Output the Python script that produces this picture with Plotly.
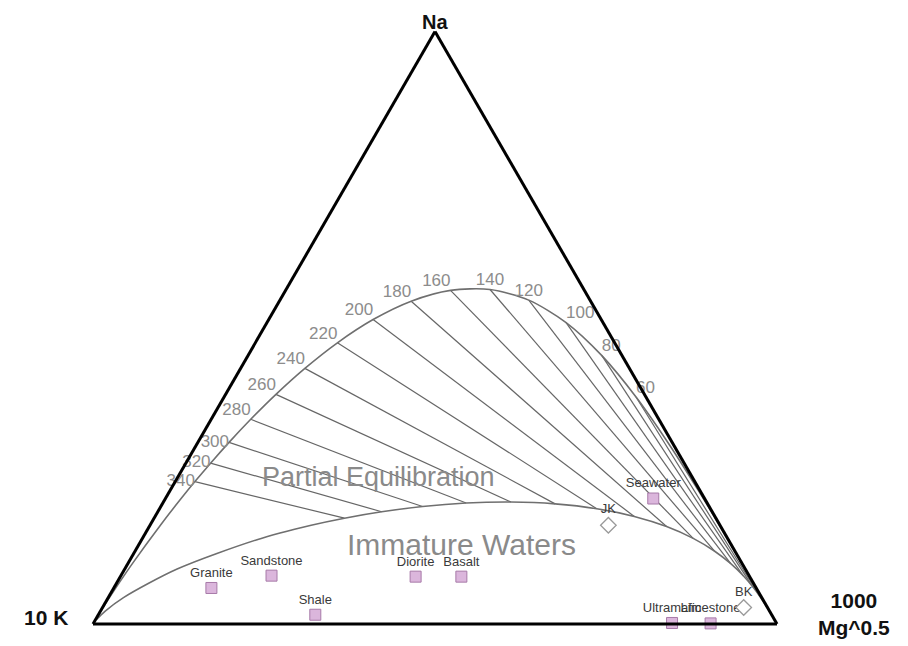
import plotly.graph_objects as go

# ---------------- data (ternary fractions: Na/1000, K/100, Mg^0.5) ----------------
temps = [340, 320, 300, 280, 260, 240, 220, 200, 180, 160, 140, 120, 100, 80, 60]

# full-equilibrium points at the labelled temperatures
fe_na = [0.24034, 0.27150, 0.30664, 0.34559, 0.38768, 0.43150, 0.47471, 0.51393,
         0.54493, 0.56319, 0.56465, 0.54672, 0.50887, 0.45301, 0.38322]
fe_k = [0.73082, 0.69238, 0.64780, 0.59660, 0.53867, 0.47448, 0.40533, 0.33353,
        0.26238, 0.19571, 0.13721, 0.08958, 0.05390, 0.02952, 0.01449]
fe_mg = [0.02884, 0.03612, 0.04556, 0.05780, 0.07364, 0.09402, 0.11997, 0.15254,
         0.19269, 0.24111, 0.29814, 0.36370, 0.43723, 0.51747, 0.60228]

# immature-water boundary points at the same temperatures
im_na = [0.17862, 0.18948, 0.19833, 0.20414, 0.20588, 0.20281, 0.19461, 0.18156,
         0.16448, 0.14458, 0.12324, 0.10179, 0.08133, 0.06270, 0.04646]
im_k = [0.54314, 0.48321, 0.41899, 0.35240, 0.28607, 0.22301, 0.16616, 0.11783,
        0.07919, 0.05024, 0.02995, 0.01668, 0.00861, 0.00409, 0.00176]
im_mg = [0.27823, 0.32731, 0.38267, 0.44346, 0.50805, 0.57419, 0.63923, 0.70061,
         0.75633, 0.80518, 0.84681, 0.88154, 0.91006, 0.93322, 0.95179]

# extra points continuing the curves beyond the labelled range
fe_hot_na = [0.00722, 0.02148, 0.04543, 0.09980, 0.16852, 0.21299]
fe_hot_k = [0.99269, 0.97799, 0.95281, 0.89385, 0.81608, 0.76381]
fe_hot_mg = [0.00009, 0.00053, 0.00176, 0.00636, 0.01540, 0.02320]
fe_cold_na = [0.30557, 0.22730, 0.15574, 0.09688, 0.05375]
fe_cold_k = [0.00626, 0.00232, 0.00071, 0.00018, 0.00003]
fe_cold_mg = [0.68817, 0.77038, 0.84355, 0.90295, 0.94622]

im_hot_na = [0.00721, 0.02135, 0.04450, 0.09274, 0.14229, 0.16666]
im_hot_k = [0.99160, 0.97186, 0.93320, 0.83065, 0.68905, 0.59768]
im_hot_mg = [0.00120, 0.00679, 0.02230, 0.07660, 0.16866, 0.23566]
im_cold_na = [0.03290, 0.02210, 0.01394]
im_cold_k = [0.00067, 0.00023, 0.00006]
im_cold_mg = [0.96643, 0.97768, 0.98600]

# reference rocks / seawater
rock_names = ["Granite", "Sandstone", "Shale", "Diorite", "Basalt",
              "Ultramafic", "Limestone", "Seawater"]
rock_na = [0.0608, 0.0816, 0.0156, 0.0799, 0.0799, 0.0017, 0.0010, 0.2118]
rock_k = [0.7965, 0.6982, 0.6672, 0.4884, 0.4215, 0.1526, 0.0966, 0.0750]
rock_mg = [0.1427, 0.2202, 0.3172, 0.4317, 0.4986, 0.8457, 0.9024, 0.7132]

# sample waters
well_names = ["JK", "BK"]
well_na = [0.1667, 0.0278]
well_k = [0.1632, 0.0348]
well_mg = [0.6701, 0.9374]

temp_label_pos = ["middle left", "middle left", "middle left", "top left", "top left",
                  "top left", "top left", "top left", "top left", "top left",
                  "top center", "top center", "top right", "top right", "top right"]

FONT = "Liberation Sans, Arial, sans-serif"
CURVE = "#6f6f6f"

fig = go.Figure()

# isotherm segments
iso_a, iso_b, iso_c = [], [], []
for i in range(len(temps)):
    iso_a += [fe_na[i], im_na[i], None]
    iso_b += [fe_k[i], im_k[i], None]
    iso_c += [fe_mg[i], im_mg[i], None]
fig.add_trace(go.Scatterternary(a=iso_a, b=iso_b, c=iso_c, mode="lines",
                                line=dict(color="#666666", width=1.2),
                                hoverinfo="skip", showlegend=False))

# full equilibrium curve
fig.add_trace(go.Scatterternary(
    a=fe_hot_na + fe_na + fe_cold_na,
    b=fe_hot_k + fe_k + fe_cold_k,
    c=fe_hot_mg + fe_mg + fe_cold_mg,
    mode="lines", line=dict(color=CURVE, width=1.6, shape="spline", smoothing=0.8),
    hoverinfo="skip", showlegend=False))

# immature water boundary
fig.add_trace(go.Scatterternary(
    a=im_hot_na + im_na + im_cold_na,
    b=im_hot_k + im_k + im_cold_k,
    c=im_hot_mg + im_mg + im_cold_mg,
    mode="lines", line=dict(color=CURVE, width=1.6, shape="spline", smoothing=0.8),
    hoverinfo="skip", showlegend=False))

# temperature labels
fig.add_trace(go.Scatterternary(
    a=fe_na, b=fe_k, c=fe_mg, mode="text",
    text=[str(t) for t in temps], textposition=temp_label_pos,
    textfont=dict(family=FONT, size=17, color="#8c8c8c"),
    hoverinfo="skip", showlegend=False, cliponaxis=False))

# rocks
fig.add_trace(go.Scatterternary(
    a=rock_na, b=rock_k, c=rock_mg, mode="markers+text",
    text=rock_names, textposition="top center",
    textfont=dict(family=FONT, size=13, color="#3a3a3a"),
    marker=dict(symbol="square", size=11, color="#dbb6dc",
                line=dict(color="#a77aa8", width=1)),
    hoverinfo="text", showlegend=False, cliponaxis=False))

# waters
fig.add_trace(go.Scatterternary(
    a=well_na, b=well_k, c=well_mg, mode="markers+text",
    text=well_names, textposition="top center",
    textfont=dict(family=FONT, size=13, color="#3a3a3a"),
    marker=dict(symbol="diamond", size=12, color="white",
                line=dict(color="#9a9a9a", width=1.3)),
    hoverinfo="text", showlegend=False, cliponaxis=False))

axis_style = dict(showline=True, linecolor="black", linewidth=3, showgrid=False,
                  showticklabels=False, ticks="", title=dict(text=""))

W, H = 908, 646
OFF = 8  # page body margin


def px(xp):
    return (xp - OFF) / W


def py(yp):
    return 1 - (yp - OFF) / H


fig.update_layout(
    width=W, height=H,
    margin=dict(l=0, r=0, t=0, b=0, pad=0),
    paper_bgcolor="white",
    font=dict(family=FONT),
    ternary=dict(
        sum=1,
        bgcolor="white",
        domain=dict(x=[0.093612, 0.846916], y=[0.03495, 0.97495]),
        aaxis=axis_style, baxis=axis_style, caxis=axis_style,
    ),
    annotations=[
        dict(text="<b>Na</b>", x=px(435), y=py(9), xref="paper", yref="paper",
             showarrow=False, xanchor="center", yanchor="top",
             font=dict(family=FONT, size=20, color="#111111")),
        dict(text="<b>10 K</b>", x=px(70), y=py(617), xref="paper", yref="paper",
             showarrow=False, xanchor="right", yanchor="middle",
             font=dict(family=FONT, size=21, color="#111111")),
        dict(text="<b>1000<br>Mg^0.5</b>", x=px(854), y=py(614), xref="paper",
             yref="paper", showarrow=False, xanchor="center", yanchor="middle",
             align="center", font=dict(family=FONT, size=21, color="#111111")),
        dict(text="Partial Equilibration", x=px(378), y=py(477), xref="paper",
             yref="paper", showarrow=False, xanchor="center", yanchor="middle",
             font=dict(family=FONT, size=27, color="#8a8a8a")),
        dict(text="Immature Waters", x=px(461), y=py(544), xref="paper",
             yref="paper", showarrow=False, xanchor="center", yanchor="middle",
             font=dict(family=FONT, size=30, color="#8a8a8a")),
    ],
)

fig.write_html("out.html")
